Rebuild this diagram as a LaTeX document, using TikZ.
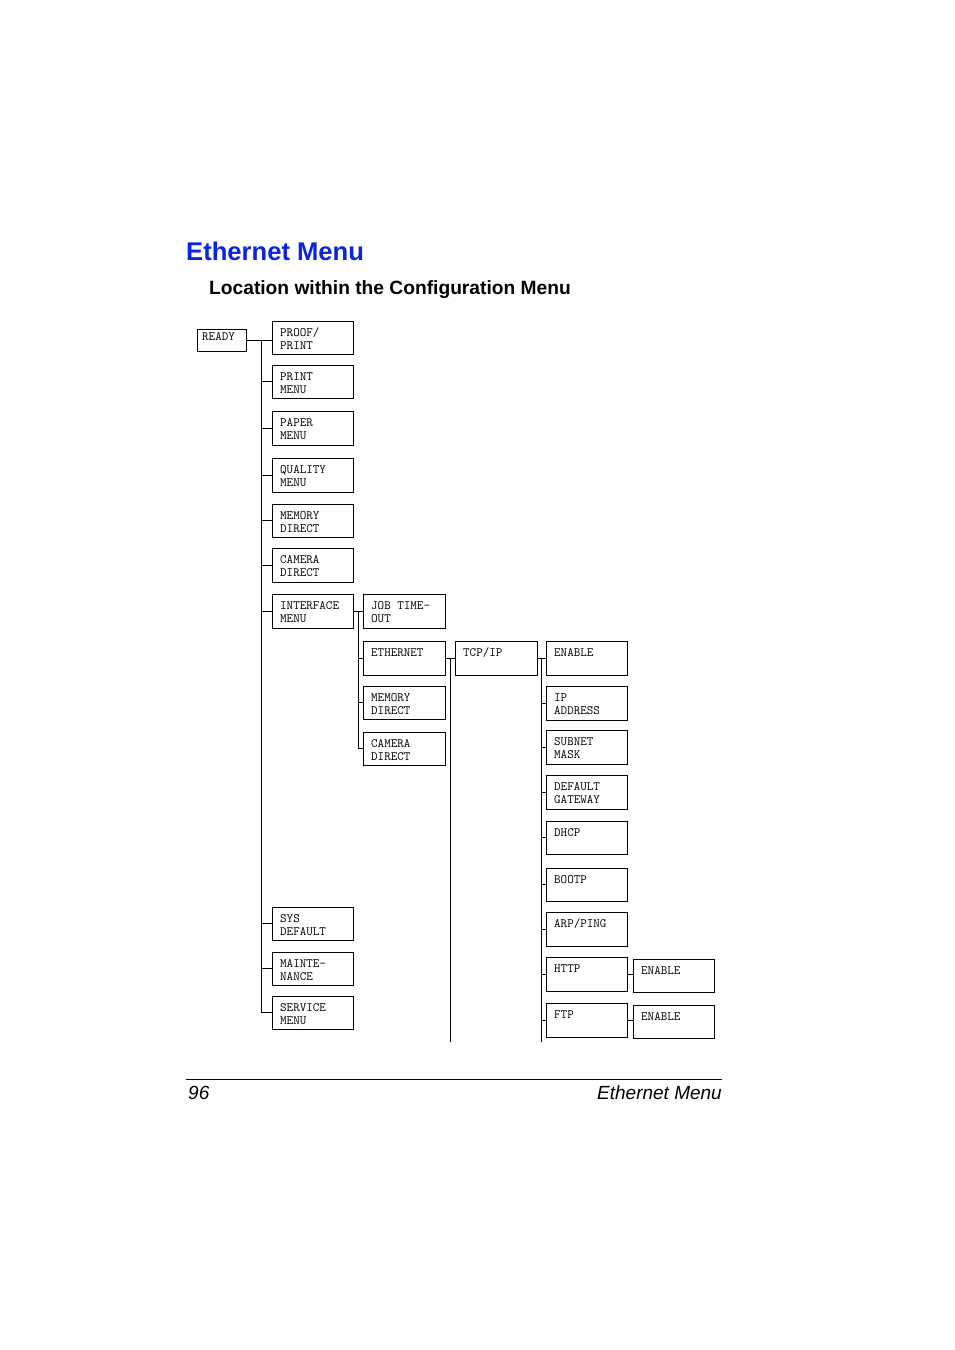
\documentclass[tikz,border=0pt]{standalone}
\usepackage{fontspec}
\setmainfont{Liberation Sans}
\definecolor{titleblue}{RGB}{10,36,226}
\tikzset{
  menubox/.style={draw, line width=0.9pt, anchor=north west, inner sep=0pt, outer sep=0pt},
  boxtxt/.style={anchor=base west, inner sep=0pt, font=\ttfamily\fontsize{12.7}{13}\selectfont},
  conn/.style={line width=0.9pt},
}
\newcommand\mnubox[7]{%
  \node[menubox, minimum width=#4pt, minimum height=#5pt] (#1) at (#2,#3) {};
  \node[boxtxt] (#1-a) at ([xshift=8pt,yshift=-15pt]#1.north west) {#6};
  \node[boxtxt] (#1-b) at ([xshift=8pt,yshift=-28pt]#1.north west) {#7};
}
\newcommand\mnuboxa[6]{%
  \node[menubox, minimum width=#4pt, minimum height=#5pt] (#1) at (#2,#3) {};
  \node[boxtxt] (#1-a) at ([xshift=8pt,yshift=-15pt]#1.north west) {#6};
}
\begin{document}
\begin{tikzpicture}[x=1pt,y=-1pt]
\fill[white] (0,0) rectangle (954,1350);
\useasboundingbox (0,0) rectangle (954,1350);

% titles
\node[anchor=base west, inner sep=0pt, font=\fontsize{25.6}{30}\selectfont\bfseries, text=titleblue] (title) at (186,260) {Ethernet Menu};
\node[anchor=base west, inner sep=0pt, font=\fontsize{19.2}{23}\selectfont\bfseries] (subtitle) at (209,294) {Location within the Configuration Menu};

% READY
\node[menubox, minimum width=49pt, minimum height=22pt] (ready) at (197,329) {};
\node[boxtxt] (ready-a) at ([xshift=5pt,yshift=-11pt]ready.north west) {READY};

% column 1
\mnubox{proof}{272}{321}{81}{33}{PROOF/}{PRINT}
\mnubox{print}{272}{365}{81}{33}{PRINT}{MENU}
\mnubox{paper}{272}{411}{81}{34}{PAPER}{MENU}
\mnubox{quality}{272}{458}{81}{34}{QUALITY}{MENU}
\mnubox{memdir}{272}{504}{81}{33}{MEMORY}{DIRECT}
\mnubox{camdir}{272}{548}{81}{34}{CAMERA}{DIRECT}
\mnubox{iface}{272}{594}{81}{34}{INTERFACE}{MENU}
\mnubox{sysdef}{272}{907}{81}{33}{SYS}{DEFAULT}
\mnubox{maint}{272}{952}{81}{33}{MAINTE-}{NANCE}
\mnubox{service}{272}{996}{81}{33}{SERVICE}{MENU}

% column 2
\mnubox{jobto}{363}{594}{82}{34}{JOB TIME-}{OUT}
\mnuboxa{ether}{363}{641}{82}{34}{ETHERNET}
\mnubox{memdirb}{363}{686}{82}{33}{MEMORY}{DIRECT}
\mnubox{camdirb}{363}{732}{82}{33}{CAMERA}{DIRECT}

% column 3
\mnuboxa{tcpip}{455}{641}{82}{34}{TCP/IP}

% column 4
\mnuboxa{enable}{546}{641}{81}{34}{ENABLE}
\mnubox{ipaddr}{546}{686}{81}{34}{IP}{ADDRESS}
\mnubox{subnet}{546}{730}{81}{34}{SUBNET}{MASK}
\mnubox{gateway}{546}{775}{81}{34}{DEFAULT}{GATEWAY}
\mnuboxa{dhcp}{546}{821}{81}{33}{DHCP}
\mnuboxa{bootp}{546}{868}{81}{33}{BOOTP}
\mnuboxa{arp}{546}{912}{81}{34}{ARP/PING}
\mnuboxa{http}{546}{957}{81}{34}{HTTP}
\mnuboxa{ftp}{546}{1003}{81}{34}{FTP}

% column 5
\mnuboxa{httpen}{633}{959}{81}{33}{ENABLE}
\mnuboxa{ftpen}{633}{1005}{81}{33}{ENABLE}

% trunks
\coordinate (j1) at (261,340);
\coordinate (j2) at (358,611);
\coordinate (j3) at (450,658);
\coordinate (j3e) at (450,1042);
\coordinate (j4) at (541,658);
\coordinate (j4e) at (541,1042);

\draw[conn] (ready.east |- j1) -- (j1 -| proof.west);
\draw[conn] (j1) |- (service.west);
\foreach \b in {print,paper,quality,memdir,camdir,iface,sysdef,maint}
  \draw[conn] (j1 |- \b.west) -- (\b.west);

\draw[conn] (iface.east |- j2) -- (j2 -| jobto.west);
\draw[conn] (j2) |- (camdirb.west);
\foreach \b in {ether,memdirb}
  \draw[conn] (j2 |- \b.west) -- (\b.west);

\draw[conn] (ether.east |- j3) -- (j3 -| tcpip.west);
\draw[conn] (j3) -- (j3e);

\draw[conn] (tcpip.east |- j4) -- (j4 -| enable.west);
\draw[conn] (j4) -- (j4e);
\foreach \b in {ipaddr,subnet,gateway,dhcp,bootp,arp,http,ftp}
  \draw[conn] (j4 |- \b.west) -- (\b.west);

\draw[conn] (http.east) -- (http.east -| httpen.west);
\draw[conn] (ftp.east) -- (ftp.east -| ftpen.west);

% footer
\coordinate (fl) at (186,1079);
\coordinate (fr) at (722,1079);
\draw[line width=0.8pt] (fl) -- (fr);
\node[anchor=base west, inner sep=0pt, font=\fontsize{19}{23}\selectfont\itshape] (pagenum) at (188,1099) {96};
\node[anchor=base east, inner sep=0pt, font=\fontsize{19}{23}\selectfont\itshape] (foottitle) at (722,1099) {Ethernet Menu};
\end{tikzpicture}
\end{document}
